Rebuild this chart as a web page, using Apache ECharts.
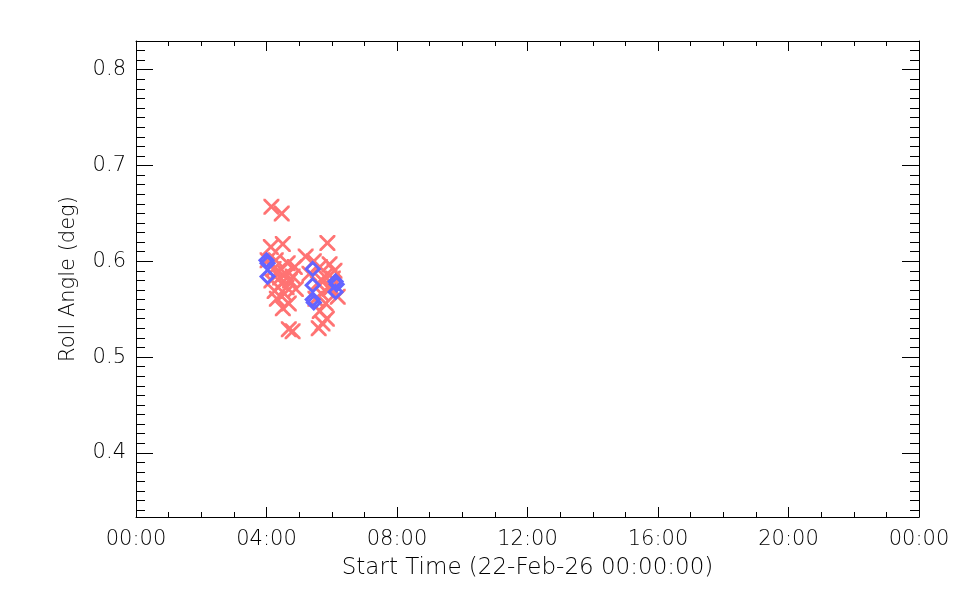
<!DOCTYPE html>
<html>
<head>
<meta charset="utf-8">
<script src="https://cdn.jsdelivr.net/npm/echarts@6/dist/echarts.min.js"></script>
<style>
  html, body { margin: 0; padding: 0; background: #fff; }
  #chart { width: 960px; height: 600px; }
</style>
</head>
<body>
<div id="chart"></div>
<script>
// red crosses: start time (HH:MM) and roll angle (deg)
var crossTimes = ['04:09', '04:28', '04:08', '04:30', '04:02', '04:17', '04:39', '04:52', '04:22', '04:35',
  '04:48', '04:09', '04:28', '04:43', '04:54', '04:15', '04:33', '04:19', '04:41', '04:30',
  '04:48', '04:41', '05:52', '05:12', '05:38', '05:56', '05:19', '05:47', '06:05', '05:34',
  '05:56', '05:41', '06:11', '05:30', '05:49', '05:38', '05:43', '05:36', '05:51', '06:02',
  '04:25', '04:37', '04:13', '05:44', '05:27', '05:59']
var crossAngles = [0.657, 0.650, 0.615, 0.618, 0.601, 0.601, 0.598, 0.594, 0.590, 0.587,
  0.584, 0.580, 0.577, 0.580, 0.571, 0.569, 0.566, 0.561, 0.556, 0.551,
  0.527, 0.529, 0.619, 0.605, 0.594, 0.597, 0.587, 0.584, 0.590, 0.577,
  0.571, 0.566, 0.563, 0.561, 0.556, 0.548, 0.535, 0.530, 0.540, 0.582,
  0.583, 0.573, 0.592, 0.579, 0.600, 0.573]

// blue diamonds
var diamondTimes = ['04:00', '04:02', '04:02', '05:25', '05:25', '05:25', '05:27', '06:07', '06:09', '06:07']
var diamondAngles = [0.601, 0.598, 0.584, 0.592, 0.575, 0.560, 0.557, 0.579, 0.576, 0.568]

var yMajorTicks = [0.4, 0.5, 0.6, 0.7, 0.8]
var yMin = 0.333
var yMax = 0.830

var yMinorTicks = []
for (var k = 34; k <= 83; k++) yMinorTicks.push(k / 100)

function toHours(t) {
  var p = t.split(':')
  return Number(p[0]) + Number(p[1]) / 60
}
function pairs(times, vals) {
  return times.map(function (t, i) { return [toHours(t), vals[i]] })
}

var font = 'DejaVu Sans'
var crossPath = 'path://M0,0L2,0L8,6L14,0L16,0L16,2L10,8L16,14L16,16L14,16L8,10L2,16L0,16L0,14L6,8L0,2Z'

var chart = echarts.init(document.getElementById('chart'))

function xAx(pos, showLabel) {
  return {
    type: 'value', position: pos, min: 0, max: 24, interval: 4,
    axisLine: { show: true, onZero: false, lineStyle: { color: '#000', width: 1 } },
    axisTick: { show: true, inside: true, length: 10, lineStyle: { color: '#000' } },
    minorTick: { show: true, splitNumber: 4, length: 5, lineStyle: { color: '#000' } },
    splitLine: { show: false },
    axisLabel: {
      show: showLabel, margin: 12, color: '#000', fontFamily: font, fontSize: 21, fontWeight: 200,
      formatter: function (v) {
        var h = Math.round(v) % 24
        return (h < 10 ? '0' : '') + h + ':00'
      }
    },
    name: showLabel ? 'Start Time (22-Feb-26 00:00:00)' : '',
    nameLocation: 'middle', nameGap: 40,
    nameTextStyle: { color: '#000', fontFamily: font, fontSize: 23, fontWeight: 200 }
  }
}

function yAx(pos, ticks, len, showLabel, showLine) {
  return {
    type: 'value', position: pos, min: yMin, max: yMax,
    axisLine: { show: showLine, onZero: false, lineStyle: { color: '#000', width: 1 } },
    axisTick: { show: true, inside: true, length: len, customValues: ticks, lineStyle: { color: '#000' } },
    splitLine: { show: false },
    axisLabel: {
      show: showLabel, margin: 10, color: '#000', fontFamily: font, fontSize: 21, fontWeight: 200,
      customValues: yMajorTicks,
      formatter: function (v) { return v.toFixed(1) }
    },
    name: showLabel ? 'Roll Angle (deg)' : '',
    nameLocation: 'middle', nameGap: 57,
    nameTextStyle: { color: '#000', fontFamily: font, fontSize: 21, fontWeight: 200 }
  }
}

chart.setOption({
  animation: false,
  backgroundColor: '#fff',
  grid: { left: 136, right: 41, top: 41, bottom: 83 },
  xAxis: [xAx('bottom', true), xAx('top', false)],
  yAxis: [
    yAx('left', yMajorTicks, 17, true, true),
    yAx('left', yMinorTicks, 9, false, false),
    yAx('right', yMajorTicks, 17, false, true),
    yAx('right', yMinorTicks, 9, false, false)
  ],
  series: [{
    type: 'scatter',
    xAxisIndex: 0, yAxisIndex: 0,
    data: pairs(crossTimes, crossAngles),
    symbol: crossPath,
    symbolSize: 16,
    itemStyle: { color: '#ff7373', opacity: 1 },
    emphasis: { disabled: true }
  }, {
    type: 'scatter',
    xAxisIndex: 0, yAxisIndex: 0,
    data: pairs(diamondTimes, diamondAngles),
    symbol: 'diamond',
    symbolSize: 13,
    itemStyle: { color: 'rgba(0,0,0,0)', borderColor: '#6464ff', borderWidth: 3, opacity: 1 },
    emphasis: { disabled: true }
  }]
})
</script>
</body>
</html>
